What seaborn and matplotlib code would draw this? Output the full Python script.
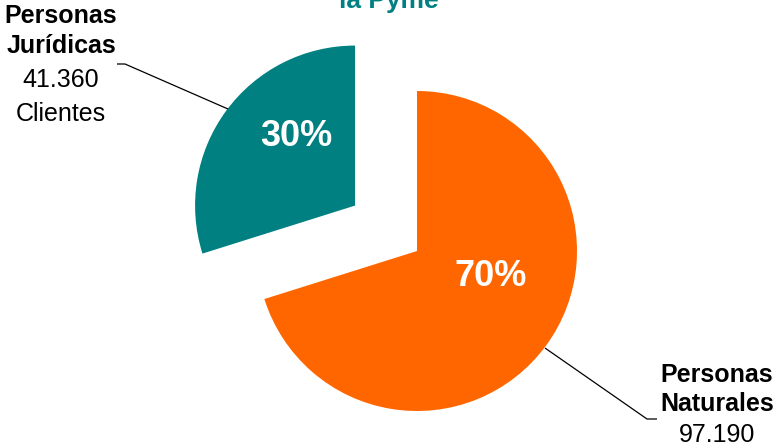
import matplotlib
matplotlib.use("Agg")
import matplotlib.pyplot as plt
import seaborn as sns

# Client counts by type of person
categories = ["Personas Jurídicas", "Personas Naturales"]
clientes = [41360, 97190]
etiquetas_valor = ["41.360", "97.190"]
colores = ["#008080", "#FF6600"]
titulo = "la Pyme"

sns.set_theme(style="white")
plt.rcParams["font.family"] = ["Liberation Sans", "DejaVu Sans"]

W, H, DPI = 777, 445, 100
fig = plt.figure(figsize=(W / DPI, H / DPI), dpi=DPI)
ax = fig.add_axes([0, 0, 1, 1])

# pixel layout: pie centre and radius
CX, CY, R = 417, 251, 160


def px(x, y):
    """Convert pixel position (origin top-left) to data coords."""
    return (x - CX) / R, (CY - y) / R


wedges, texts, autotexts = ax.pie(
    clientes,
    colors=colores,
    startangle=90,
    counterclock=True,
    explode=(0.48, 0.0),
    radius=1.0,
    autopct="%1.0f%%",
    pctdistance=0.5,
    wedgeprops=dict(linewidth=0),
    textprops=dict(color="white", fontsize=26, fontweight="bold"),
)

# percentage labels inside the slices
for t, pos in zip(autotexts, [(296, 137), (491, 277)]):
    t.set_position(px(*pos))
    t.set_ha("center")
    t.set_va("center")

ax.set_xlim(-CX / R, (W - CX) / R)
ax.set_ylim(-(H - CY) / R, CY / R)
ax.set_aspect("auto")
ax.axis("off")

# title (only the last line fits above the plot)
ax.text(*px(389, 8), titulo, ha="center", va="baseline", color="#008080",
        fontsize=19, fontweight="bold")

# left callout: Personas Jurídicas
nombre_j = categories[0].split(" ")
lineas_izq = [
    (nombre_j[0], 23, "bold"),
    (nombre_j[1], 53, "bold"),
    (etiquetas_valor[0], 87, "normal"),
    ("Clientes", 121, "normal"),
]
for txt, yb, w in lineas_izq:
    ax.text(*px(61, yb), txt, ha="center", va="baseline", fontsize=18,
            fontweight=w, color="black")
lx, ly = zip(px(117, 64), px(125, 64), px(228, 109))
ax.plot(lx, ly, color="black", linewidth=0.9, solid_capstyle="butt")

# right callout: Personas Naturales
nombre_n = categories[1].split(" ")
lineas_der = [
    (nombre_n[0], 382, "bold"),
    (nombre_n[1], 411, "bold"),
    (etiquetas_valor[1], 442, "normal"),
]
for txt, yb, w in lineas_der:
    ax.text(*px(717, yb), txt, ha="center", va="baseline", fontsize=18,
            fontweight=w, color="black")
rx, ry = zip(px(545, 348), px(647, 419), px(657, 419))
ax.plot(rx, ry, color="black", linewidth=0.9, solid_capstyle="butt")

fig.savefig("out.png", dpi=DPI, facecolor="white")
